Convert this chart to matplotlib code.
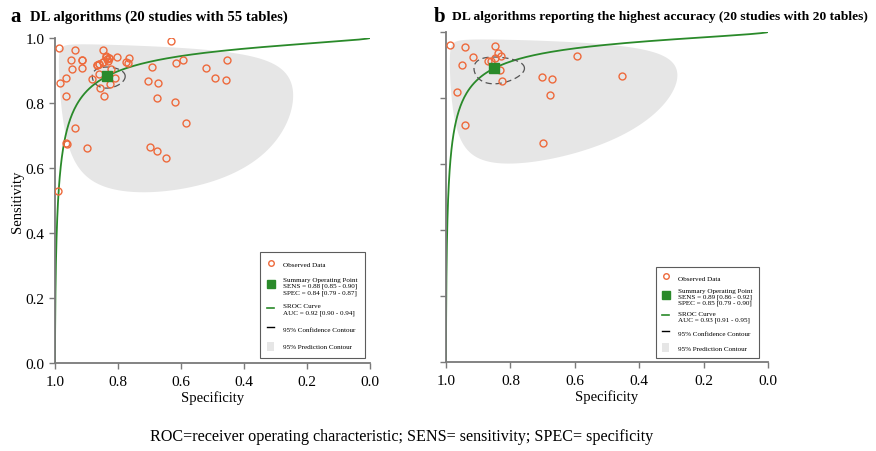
import numpy as np
import matplotlib.pyplot as plt
from matplotlib.lines import Line2D
from matplotlib.patches import Patch

plt.rcParams['font.family'] = ['Liberation Serif', 'DejaVu Serif']

# panel a: 55 tables (specificity, sensitivity)
spec_a = [0.986, 0.937, 0.847, 0.632, 0.949, 0.913, 0.946, 0.915, 0.868, 0.859,
          0.847, 0.838, 0.829, 0.831, 0.802, 0.775, 0.765, 0.769, 0.965, 0.983,
          0.882, 0.860, 0.823, 0.810, 0.825, 0.858, 0.845, 0.964, 0.693, 0.615,
          0.594, 0.521, 0.453, 0.491, 0.457, 0.704, 0.672, 0.677, 0.619, 0.584,
          0.937, 0.965, 0.963, 0.898, 0.697, 0.677, 0.649, 0.990, 0.868, 0.834,
          0.838, 0.847, 0.860, 0.829, 0.913]
sens_a = [0.968, 0.962, 0.962, 0.992, 0.931, 0.931, 0.905, 0.908, 0.917, 0.921,
          0.927, 0.942, 0.937, 0.929, 0.941, 0.927, 0.937, 0.924, 0.878, 0.862,
          0.874, 0.889, 0.905, 0.878, 0.858, 0.846, 0.822, 0.823, 0.912, 0.922,
          0.932, 0.909, 0.933, 0.877, 0.872, 0.869, 0.862, 0.814, 0.804, 0.737,
          0.722, 0.677, 0.673, 0.662, 0.666, 0.653, 0.630, 0.530, 0.918, 0.935,
          0.944, 0.927, 0.921, 0.937, 0.931]

# panel b: 20 tables
spec_b = [0.988, 0.940, 0.848, 0.839, 0.829, 0.847, 0.916, 0.949, 0.870, 0.860,
          0.831, 0.827, 0.593, 0.703, 0.671, 0.677, 0.967, 0.941, 0.698, 0.454]
sens_b = [0.961, 0.956, 0.957, 0.936, 0.928, 0.922, 0.925, 0.900, 0.911, 0.911,
          0.885, 0.852, 0.926, 0.863, 0.857, 0.809, 0.819, 0.718, 0.663, 0.868]

# summary estimates
summ_a = dict(sens=0.882, spec=0.836)
summ_b = dict(sens=0.890, spec=0.851)
# SROC: logit(sens) = a + b * logit(fpr)
sroc_a = (3.107, 0.673)
sroc_b = (3.215, 0.646)
# contours in logit space: half-widths (fpr, sens) and correlation
conf_a = (0.38, 0.31, 0.0)
pred_a = (2.76, 1.91, -0.25)
conf_b = (0.61, 0.41, 0.0)
pred_b = (2.68, 1.68, -0.12)

labels_a = ['Observed Data',
            'Summary Operating Point\nSENS = 0.88 [0.85 - 0.90]\nSPEC = 0.84 [0.79 - 0.87]',
            'SROC Curve\nAUC = 0.92 [0.90 - 0.94]',
            '95% Confidence Contour', '95% Prediction Contour']
labels_b = ['Observed Data',
            'Summary Operating Point\nSENS = 0.89 [0.86 - 0.92]\nSPEC = 0.85 [0.79 - 0.90]',
            'SROC Curve\nAUC = 0.93 [0.91 - 0.95]',
            '95% Confidence Contour', '95% Prediction Contour']

ORANGE = '#ee6a3c'
GREEN = '#2a8a2a'
GREY = '#e6e6e6'


def logit(p):
    return np.log(p / (1 - p))


def expit(x):
    return 1 / (1 + np.exp(-x))


def contour(summ, pars):
    hx, hy, rho = pars
    t = np.linspace(0, 2 * np.pi, 300)
    lx = logit(1 - summ['spec']) + hx * np.cos(t)
    ly = logit(summ['sens']) + hy * (rho * np.cos(t) + np.sqrt(1 - rho ** 2) * np.sin(t))
    return 1 - expit(lx), expit(ly)


def panel(ax, spec, sens, summ, sroc, conf, pred, labels, leg_box, lspace, bpad):
    px, py = contour(summ, pred)
    ax.fill(px, py, color=GREY, lw=0, zorder=1)
    lf = np.linspace(-16, 9, 600)
    ax.plot(1 - expit(lf), expit(sroc[0] + sroc[1] * lf), color=GREEN, lw=1.3, zorder=2)
    cx, cy = contour(summ, conf)
    ax.plot(cx, cy, color='#555555', lw=0.9, ls=(0, (5, 3)), zorder=3)
    ax.plot(spec, sens, 'o', mfc='none', mec=ORANGE, mew=1.0, ms=5, zorder=4)
    ax.plot(summ['spec'], summ['sens'], 's', color=GREEN, ms=7, zorder=5)

    ax.set_xlim(1, 0)
    ax.set_ylim(0, 1)
    ticks = np.arange(0, 1.01, 0.2)
    ax.set_xticks(ticks)
    ax.set_yticks(ticks)
    ax.set_xticklabels(['%.1f' % t for t in ticks])
    for s in ['top', 'right']:
        ax.spines[s].set_visible(False)
    for s in ['left', 'bottom']:
        ax.spines[s].set_color('#7a7a7a')
        ax.spines[s].set_linewidth(1.3)
    ax.tick_params(direction='out', length=4, width=1, color='#7a7a7a', labelsize=11)
    ax.tick_params(axis='x', pad=5)
    ax.set_xlabel('Specificity', fontsize=10.5, labelpad=1)

    handles = [Line2D([], [], ls='none', marker='o', mfc='none', mec=ORANGE, mew=1.0, ms=4),
               Line2D([], [], ls='none', marker='s', color=GREEN, ms=6),
               Line2D([], [], color=GREEN, lw=1.2),
               Line2D([], [], color='black', lw=1.0),
               Patch(facecolor=GREY, edgecolor='none')]
    leg = ax.legend(handles, labels, loc='upper left', bbox_to_anchor=leg_box,
                    bbox_transform=ax.figure.transFigure, fontsize=5.1,
                    frameon=True, fancybox=False, edgecolor='#333333',
                    handlelength=1.0, handleheight=1.6, handletextpad=1.3,
                    labelspacing=lspace, borderpad=bpad, borderaxespad=0)
    leg.get_frame().set_linewidth(0.8)


W, H = 876, 452
fig = plt.figure(figsize=(W / 100, H / 100), dpi=100)
ax1 = fig.add_axes([55 / W, 1 - 364 / H, 315 / W, 325 / H])
ax2 = fig.add_axes([446 / W, 1 - 363 / H, 322 / W, 330 / H])

panel(ax1, spec_a, sens_a, summ_a, sroc_a, conf_a, pred_a, labels_a,
      (260 / W, 1 - 253 / H), 1.25, 1.0)
panel(ax2, spec_b, sens_b, summ_b, sroc_b, conf_b, pred_b, labels_b,
      (656 / W, 1 - 268 / H), 0.8, 0.85)
ax1.set_ylabel('Sensitivity', fontsize=10.5)
ax1.yaxis.set_label_coords(-0.098, 0.5)
ax2.set_yticklabels([])

fig.text(10 / W, 1 - 17 / H, 'a', fontsize=15, fontweight='bold', va='center')
fig.text(30 / W, 1 - 17 / H, 'DL algorithms (20 studies with 55 tables)',
         fontsize=10.6, fontweight='bold', va='center')
fig.text(434 / W, 1 - 17 / H, 'b', fontsize=15, fontweight='bold', va='center')
fig.text(452 / W, 1 - 17 / H,
         'DL algorithms reporting the highest accuracy (20 studies with 20 tables)',
         fontsize=9.7, fontweight='bold', va='center')
fig.text(402 / W, 1 - 437 / H,
         'ROC=receiver operating characteristic; SENS= sensitivity; SPEC= specificity',
         fontsize=11.6, ha='center', va='center')

fig.savefig('out.png', dpi=100)
